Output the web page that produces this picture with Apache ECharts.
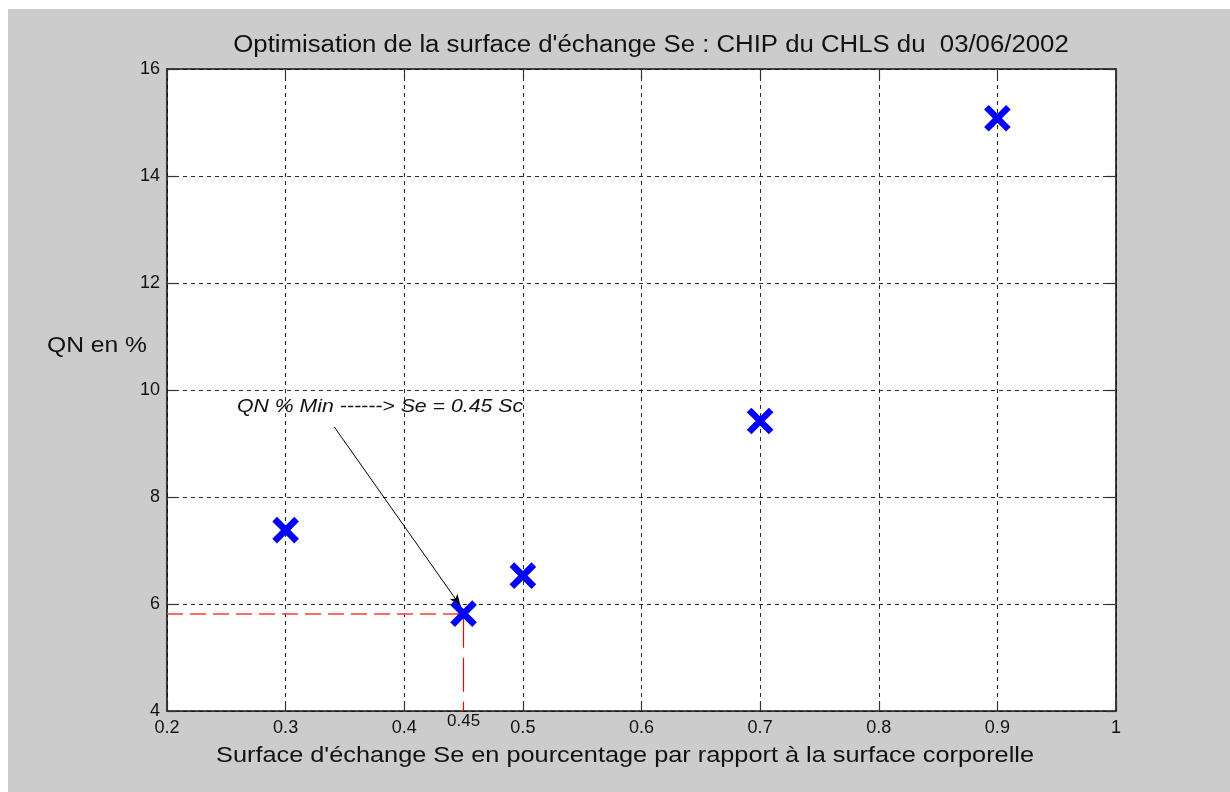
<!DOCTYPE html>
<html>
<head>
<meta charset="utf-8">
<script src="https://cdn.jsdelivr.net/npm/echarts@6/dist/echarts.min.js"></script>
<style>
  html, body { margin: 0; padding: 0; background: #ffffff; }
  #chart { width: 1230px; height: 792px; }
</style>
</head>
<body>
<div id="chart"></div>
<script>
// Measured points: exchange surface Se (fraction of body surface) vs QN %
const seValues = [0.3, 0.45, 0.5, 0.7, 0.9];
const qnValues = [7.38, 5.82, 6.53, 9.42, 15.08];

// Axis ticks
const xTickLabels = ['0.2', '0.3', '0.4', '0.5', '0.6', '0.7', '0.8', '0.9', '1'];
const yTickLabels = ['4', '6', '8', '10', '12', '14', '16'];

// Optimum marked on the chart
const optimumSe = 0.45;
const optimumQn = 5.82;
const optimumLabel = '0.45';

// Annotation arrow (tail and head, data units)
const arrowTail = [0.341, 9.31];
const arrowHead = [0.4475, 5.96];

const titleText = "Optimisation de la surface d'échange Se : CHIP du CHLS du  03/06/2002";
const xName = "Surface d'échange Se en pourcentage par rapport à la surface corporelle";
const yName = 'QN en %';
const noteText = 'QN % Min ------> Se = 0.45 Sc';

const xMin = +xTickLabels[0], xMax = +xTickLabels[xTickLabels.length - 1];
const yMin = +yTickLabels[0], yMax = +yTickLabels[yTickLabels.length - 1];
const xStep = +(xTickLabels[1] - xTickLabels[0]).toFixed(3);
const yStep = +yTickLabels[1] - +yTickLabels[0];

const FONT = '"Liberation Sans", Arial, Helvetica, sans-serif';
const STRETCH = 1.12;

const points = seValues.map((x, i) => [x, qnValues[i]]);

function xLabel(v) {
  const i = Math.round((v - xMin) / xStep);
  return xTickLabels[i] !== undefined ? xTickLabels[i] : '';
}
function yLabel(v) {
  const i = Math.round((v - yMin) / yStep);
  return yTickLabels[i] !== undefined ? yTickLabels[i] : '';
}

const gridLine = { show: true, lineStyle: { color: '#2a2a2a', width: 1, type: [4, 4] } };
const frameLine = { show: true, onZero: false, lineStyle: { color: '#111', width: 1.6 } };
const innerTick = { show: true, inside: true, length: 10, lineStyle: { color: '#333', width: 1.2 } };

const chart = echarts.init(document.getElementById('chart'), null, { renderer: 'canvas' });

const option = {
  backgroundColor: '#cccccc',
  animation: false,
  grid: {
    left: 167, top: 69, right: 114, bottom: 81,
    show: true, backgroundColor: '#ffffff', borderWidth: 0
  },
  xAxis: [
    {
      type: 'value', min: xMin, max: xMax, interval: xStep, position: 'bottom',
      axisLine: frameLine, axisTick: innerTick, splitLine: gridLine,
      axisLabel: {
        formatter: xLabel, color: '#111', fontFamily: FONT, fontSize: 18, margin: 8
      }
    },
    {
      type: 'value', min: xMin, max: xMax, interval: xStep, position: 'top',
      axisLine: frameLine, axisTick: innerTick, splitLine: { show: false },
      axisLabel: { show: false }
    }
  ],
  yAxis: [
    {
      type: 'value', min: yMin, max: yMax, interval: yStep, position: 'left',
      axisLine: frameLine, axisTick: innerTick, splitLine: gridLine,
      axisLabel: {
        formatter: yLabel, color: '#111', fontFamily: FONT, fontSize: 18, margin: 7
      }
    },
    {
      type: 'value', min: yMin, max: yMax, interval: yStep, position: 'right',
      axisLine: frameLine, axisTick: innerTick, splitLine: { show: false },
      axisLabel: { show: false }
    }
  ],
  series: [
    {
      // red dashed guides to the optimum
      type: 'line',
      data: [],
      silent: true,
      markLine: {
        silent: true,
        symbol: ['none', 'none'],
        label: { show: false },
        data: [
          [
            { coord: [xMin, optimumQn], lineStyle: { color: '#ff3a3a', width: 1.6, type: [16, 7] } },
            { coord: [optimumSe, optimumQn] }
          ],
          [
            { coord: [optimumSe, optimumQn], lineStyle: { color: '#ff0000', width: 1.2, type: [34, 10] } },
            {
              coord: [optimumSe, yMin],
              label: {
                show: true, position: 'end', formatter: optimumLabel, distance: 2,
                color: '#111', fontFamily: FONT, fontSize: 17
              }
            }
          ]
        ]
      }
    },
    {
      type: 'scatter',
      data: points,
      symbol: 'path://M0,0L10,10M10,0L0,10',
      symbolSize: 22,
      itemStyle: { color: 'none', borderColor: '#0000ff', borderWidth: 6.5, opacity: 1 },
      z: 5
    },
    {
      // annotation arrow
      type: 'line',
      data: [],
      silent: true,
      markLine: {
        silent: true,
        symbol: ['none', 'arrow'],
        symbolSize: [7, 12],
        lineStyle: { color: '#000', width: 1, type: 'solid' },
        label: { show: false },
        data: [[{ coord: arrowTail }, { coord: arrowHead }]]
      },
      z: 6
    }
  ],
  graphic: [
    { type: 'rect', shape: { x: 0, y: 0, width: 1230, height: 9 }, style: { fill: '#ffffff' }, silent: true },
    { type: 'rect', shape: { x: 0, y: 0, width: 8, height: 792 }, style: { fill: '#ffffff' }, silent: true },
    {
      type: 'text', x: 651, y: 46, scaleX: STRETCH,
      style: { text: titleText, font: '23px ' + FONT, fill: '#111', align: 'center', verticalAlign: 'middle' }
    },
    {
      type: 'text', x: 625, y: 756, scaleX: STRETCH,
      style: { text: xName, font: '22.6px ' + FONT, fill: '#111', align: 'center', verticalAlign: 'middle' }
    },
    {
      type: 'text', x: 97, y: 346, scaleX: STRETCH,
      style: { text: yName, font: '22px ' + FONT, fill: '#111', align: 'center', verticalAlign: 'middle' }
    },
    {
      type: 'text', x: 380, y: 407, scaleX: STRETCH,
      style: { text: noteText, font: 'italic 19px ' + FONT, fill: '#111', align: 'center', verticalAlign: 'middle' }
    }
  ]
};

chart.setOption(option);
</script>
</body>
</html>
